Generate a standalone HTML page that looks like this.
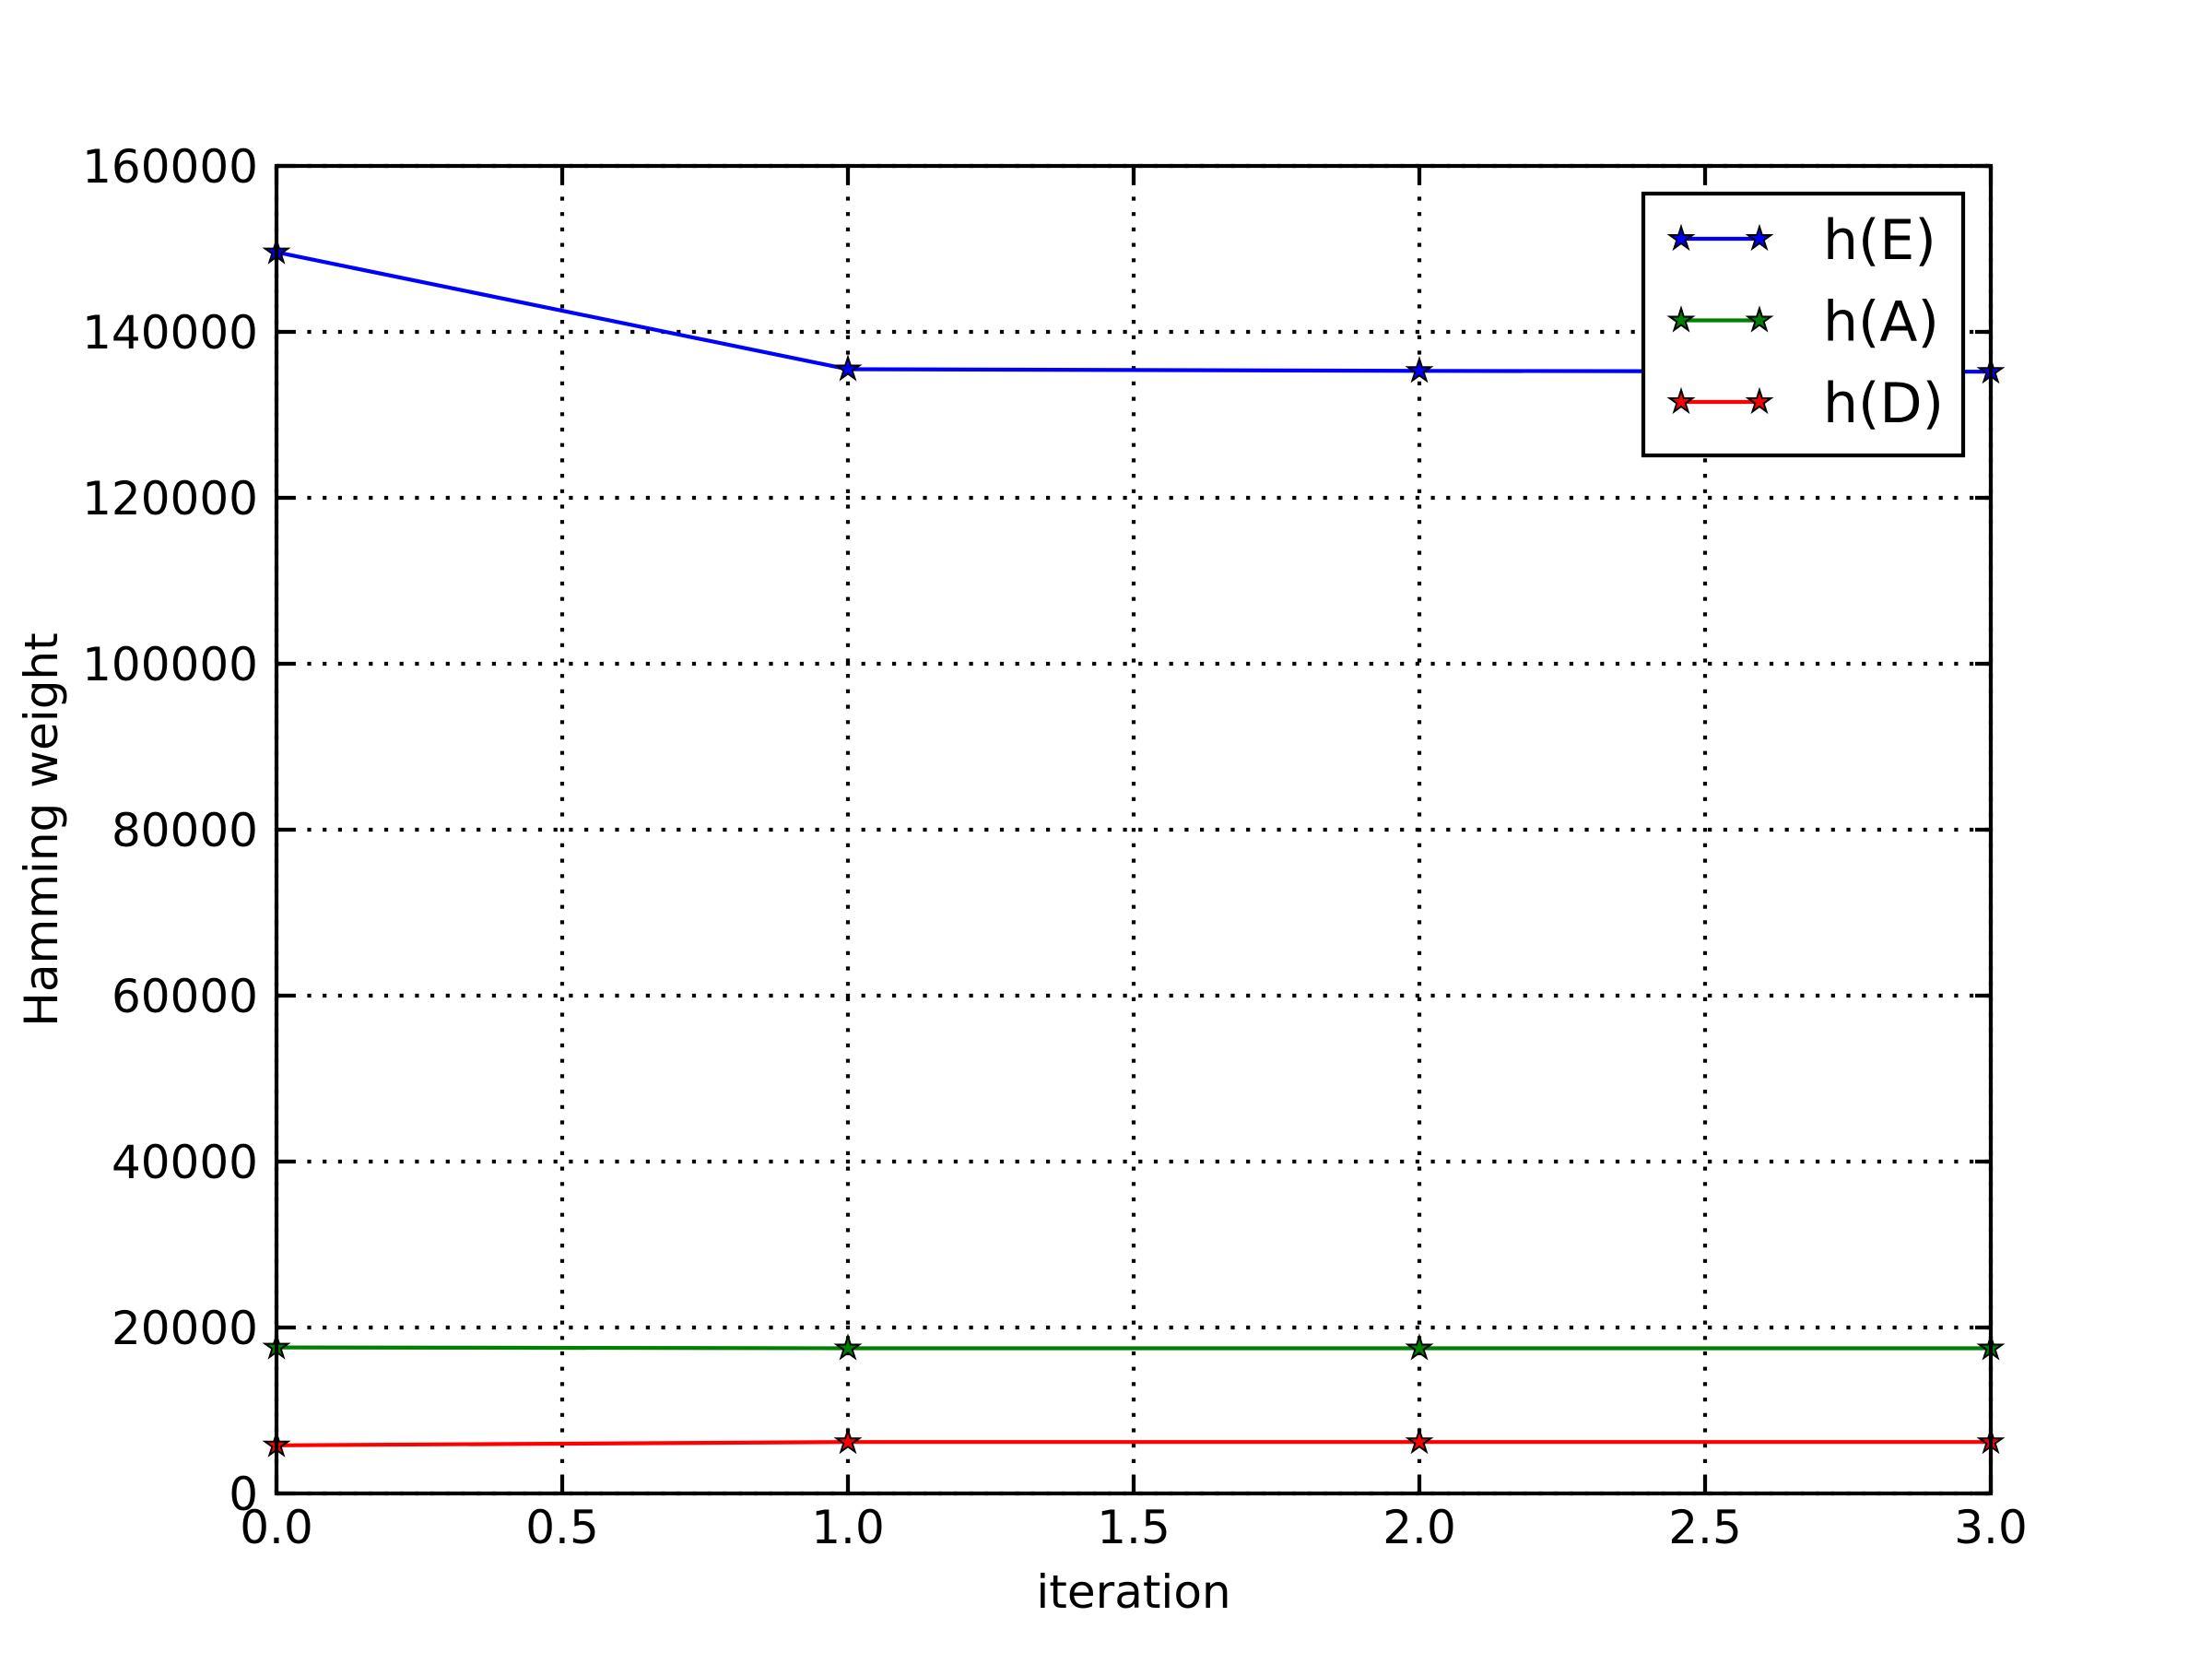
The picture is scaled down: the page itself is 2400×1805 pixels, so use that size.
<!DOCTYPE html>
<html><head><meta charset="utf-8"><style>
html,body{margin:0;padding:0;background:#fff;}
svg text{font-family:"DejaVu Sans","Liberation Sans",sans-serif;fill:#000;}
</style></head><body>
<svg id="chart" width="2400" height="1800" viewBox="0 0 2400 1800" xmlns="http://www.w3.org/2000/svg">
<rect width="2400" height="1800" fill="#fff"/>
<g id="grid"></g>
<g id="series"></g>
<g id="ticks"></g>
<rect x="300" y="180" width="1860" height="1440" fill="none" stroke="#000" stroke-width="4.2"/>
<g id="legend"></g>
<text x="1230" y="1744" font-size="50" text-anchor="middle">iteration</text>
<text x="62" y="900" font-size="50" text-anchor="middle" transform="rotate(-90 62 900)">Hamming weight</text>
</svg>
<script>
const xCats = [0, 1, 2, 3];
const seriesE = [149600, 135500, 135300, 135200];
const seriesA = [17600, 17500, 17500, 17500];
const seriesD = [5800, 6200, 6200, 6200];
const seriesNames = ["h(E)", "h(A)", "h(D)"];
const xTicks = [0, 0.5, 1, 1.5, 2, 2.5, 3];
const xTickLabels = ["0.0","0.5","1.0","1.5","2.0","2.5","3.0"];
const yTicks = [0,20000,40000,60000,80000,100000,120000,140000,160000];
const yTickLabels = ["0","20000","40000","60000","80000","100000","120000","140000","160000"];

const L=300,R=2160,T=180,B=1620;
function xs(v){return L+(v-0)/(3-0)*(R-L);}
function ys(v){return B-(v-0)/(160000-0)*(B-T);}
const NS="http://www.w3.org/2000/svg";
function mk(tag,attrs,parent){const e=document.createElementNS(NS,tag);for(const k in attrs)e.setAttribute(k,attrs[k]);parent.appendChild(e);return e;}
function starPath(cx,cy,r){let d="";const ri=r*0.382;for(let i=0;i<10;i++){const a=-Math.PI/2+i*Math.PI/5;const rr=i%2?ri:r;d+=(i?"L":"M")+(cx+rr*Math.cos(a)).toFixed(1)+","+(cy+rr*Math.sin(a)).toFixed(1);}return d+"Z";}

const grid=document.getElementById('grid'),ticks=document.getElementById('ticks');
xTicks.forEach((v,i)=>{
  const x=xs(v);
  const g=mk('line',{x1:x,y1:T,x2:x,y2:B,stroke:'#000','stroke-width':4.2,'stroke-dasharray':'4.2 12.5'},grid);
  
  
  mk('line',{x1:x,y1:B,x2:x,y2:B-17,stroke:'#000','stroke-width':4.2},ticks);
  mk('line',{x1:x,y1:T,x2:x,y2:T+17,stroke:'#000','stroke-width':4.2},ticks);
  const t=mk('text',{x:x,y:1674,'font-size':50,'text-anchor':'middle'},ticks);
  t.textContent=xTickLabels[i];
  
  
});
yTicks.forEach((v,i)=>{
  const y=ys(v);
  const g=mk('line',{x1:L,y1:y,x2:R,y2:y,stroke:'#000','stroke-width':4.2,'stroke-dasharray':'4.2 12.5'},grid);
  
  
  mk('line',{x1:L,y1:y,x2:L+17,y2:y,stroke:'#000','stroke-width':4.2},ticks);
  mk('line',{x1:R,y1:y,x2:R-17,y2:y,stroke:'#000','stroke-width':4.2},ticks);
  const t=mk('text',{x:280,y:y+18,'font-size':50,'text-anchor':'end'},ticks);
  t.textContent=yTickLabels[i];
  
  
});

const colors=['#0000ff','#008000','#ff0000'];
const allSeries=[seriesE,seriesA,seriesD];
const sg=document.getElementById('series');
allSeries.forEach((s,si)=>{
  const pts=s.map((v,i)=>xs(xCats[i])+','+ys(v)).join(' ');
  const pl=mk('polyline',{points:pts,fill:'none',stroke:colors[si],'stroke-width':4.2},sg);
  
  
  s.forEach((v,i)=>{
    const p=mk('path',{d:starPath(xs(xCats[i]),ys(v),13),fill:colors[si],stroke:'#000','stroke-width':2,'stroke-linejoin':'miter'},sg);
    
    
  });
});

const lg=document.getElementById('legend');
const box=mk('rect',{x:1783,y:210,width:347,height:284,fill:'#fff',stroke:'#000','stroke-width':4.2},lg);


seriesNames.forEach((n,i)=>{
  const y=259+i*88.5;
  mk('line',{x1:1824,y1:y,x2:1909,y2:y,stroke:colors[i],'stroke-width':4.2},lg);
  mk('path',{d:starPath(1824,y,13),fill:colors[i],stroke:'#000','stroke-width':2},lg);
  mk('path',{d:starPath(1909,y,13),fill:colors[i],stroke:'#000','stroke-width':2},lg);
  const t=mk('text',{x:1978,y:y+22,'font-size':60},lg);
  t.textContent=n;
  
  
});
</script>
</body></html>
